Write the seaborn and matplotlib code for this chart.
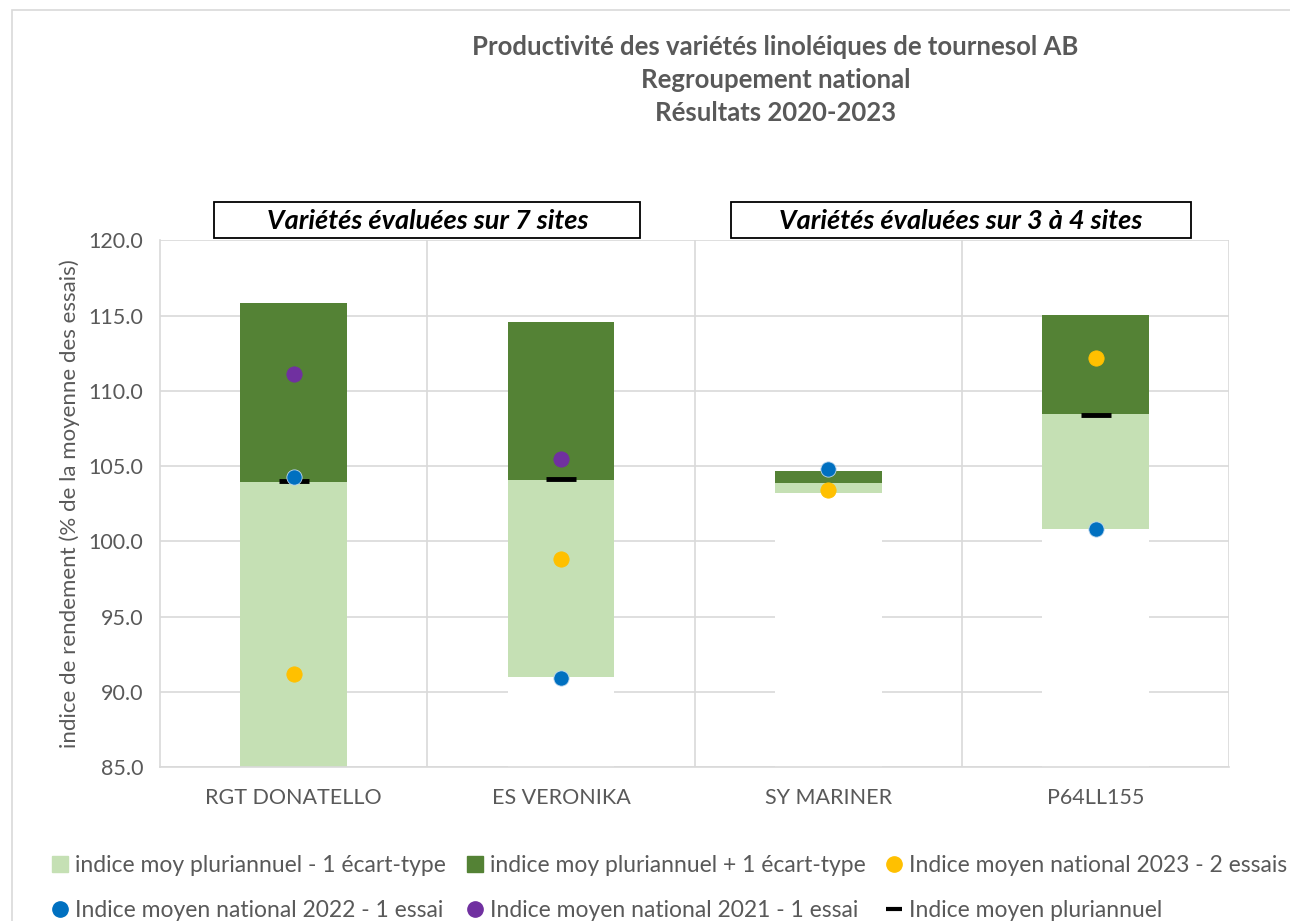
import pandas as pd
import numpy as np
import matplotlib
matplotlib.use("Agg")
import matplotlib.pyplot as plt
import seaborn as sns
from matplotlib.lines import Line2D
from matplotlib.patches import Rectangle

# data
varieties = ["RGT DONATELLO", "ES VERONIKA", "SY MARINER", "P64LL155"]
low_sd = [82.0, 91.0, 103.2, 100.8]       # indice moy pluriannuel - 1 ecart-type
mean_idx = [103.95, 104.1, 103.85, 108.45]  # indice moyen pluriannuel
high_sd = [115.85, 114.6, 104.7, 115.05]   # indice moy pluriannuel + 1 ecart-type
nat_2023 = [91.2, 98.8, 103.4, 112.2]
nat_2022 = [104.3, 90.9, 104.8, 100.8]
nat_2021 = [111.1, 105.5, np.nan, np.nan]
mean_marker = [104.0, 104.15, np.nan, 108.4]

df = pd.DataFrame({"variete": varieties, "low": low_sd, "mean": mean_idx,
                   "high": high_sd, "y2023": nat_2023, "y2022": nat_2022,
                   "y2021": nat_2021, "moy": mean_marker})

light_green = "#C5E0B4"
dark_green = "#548235"
yellow = "#FFC000"
blue = "#0070C0"
purple = "#7030A0"
grey = "#595959"

sns.set_style("white")
plt.rcParams["font.family"] = ["Lato", "DejaVu Sans"]

fig = plt.figure(figsize=(12.9, 9.21), dpi=100)
ax = fig.add_axes([0.124, 0.167, 0.829, 0.572])

# stacked bars: dark green up to +1 sd, light green up to mean, white below -1 sd
for col, c in [("high", dark_green), ("mean", light_green), ("low", "white")]:
    sns.barplot(data=df, x="variete", y=col, color=c, width=0.4,
                saturation=1, linewidth=0, ax=ax, zorder=2)

# points
for col, c in [("y2023", yellow), ("y2022", blue), ("y2021", purple)]:
    sns.stripplot(data=df, x="variete", y=col, jitter=False, color=c, size=11,
                  linewidth=0.6, edgecolor="#bdd7ee" if c == blue else c,
                  ax=ax, zorder=4)
sns.stripplot(data=df, x="variete", y="moy", jitter=False, color="black",
              marker="_", size=22, linewidth=3.5, ax=ax, zorder=3)

ax.set_ylim(85, 120)
ax.set_xlim(-0.5, 3.5)
ax.set_yticks(np.arange(85, 120.1, 5))
ax.set_yticklabels([f"{v:.1f}" for v in np.arange(85, 120.1, 5)])
ax.set_xticks([0.5, 1.5, 2.5, 3.5], minor=True)
ax.set_axisbelow(True)
ax.grid(axis="y", color="#d9d9d9", linewidth=1.2, zorder=0)
ax.grid(axis="x", which="minor", color="#d9d9d9", linewidth=1.2, zorder=0)
ax.grid(axis="x", which="major", visible=False)
ax.tick_params(axis="both", which="both", length=0, colors=grey, labelsize=15.5)
ax.tick_params(axis="x", pad=15)
ax.tick_params(axis="y", pad=12)
for s in ["top", "right"]:
    ax.spines[s].set_visible(False)
for s in ["left", "bottom"]:
    ax.spines[s].set_color("#d9d9d9")
    ax.spines[s].set_linewidth(1.2)
ax.set_xlabel("")
ax.set_ylabel("indice de rendement (% de la moyenne des essais)", color=grey,
              fontsize=16, labelpad=6)

# group boxes
for x0, x1, label in [(0.051, 0.449, "Variétés évaluées sur 7 sites"),
                      (0.534, 0.964, "Variétés évaluées sur 3 à 4 sites")]:
    ax.add_patch(Rectangle((x0, 1.004), x1 - x0, 0.068, transform=ax.transAxes,
                           facecolor="white", edgecolor="black", linewidth=1.3,
                           clip_on=False, zorder=5))
    ax.text((x0 + x1) / 2, 1.036, label, transform=ax.transAxes, ha="center",
            va="center", fontsize=19.5, fontweight="bold", fontstyle="italic",
            color="black", zorder=6)

fig.text(0.601, 0.962, "Productivité des variétés linoléiques de tournesol AB\n"
         "Regroupement national\nRésultats 2020-2023", ha="center", va="top",
         fontsize=18.5, fontweight="bold", color=grey, linespacing=1.45)

# chart area border
fig.patches.append(Rectangle((0.0093, -0.02), 1.0, 1.0093, transform=fig.transFigure,
                             facecolor="none", edgecolor="#d9d9d9", linewidth=1.2))

handles = [
    Line2D([], [], marker="s", linestyle="none", color=light_green, markersize=11),
    Line2D([], [], marker="s", linestyle="none", color=dark_green, markersize=11),
    Line2D([], [], marker="o", linestyle="none", color=yellow, markersize=11),
    Line2D([], [], marker="o", linestyle="none", color=blue, markersize=11),
    Line2D([], [], marker="o", linestyle="none", color=purple, markersize=11),
    Line2D([], [], marker="_", linestyle="none", color="black", markersize=12,
           markeredgewidth=3),
]
labels = ["indice moy pluriannuel - 1 écart-type",
          "indice moy pluriannuel + 1 écart-type",
          "Indice moyen national 2023 - 2 essais",
          "Indice moyen national 2022 - 1 essai",
          "Indice moyen national 2021 - 1 essai",
          "Indice moyen pluriannuel"]
# matplotlib fills legend columns first, so reorder to read row by row
order = [0, 3, 1, 4, 2, 5]
fig.legend([handles[i] for i in order], [labels[i] for i in order],
           loc="lower left", bbox_to_anchor=(0.022, -0.022), ncol=3, frameon=False,
           fontsize=16.5, labelcolor=grey, handletextpad=0.15,
           columnspacing=0.75, handlelength=1.0, labelspacing=1.05)

fig.savefig("out.png", dpi=100)
